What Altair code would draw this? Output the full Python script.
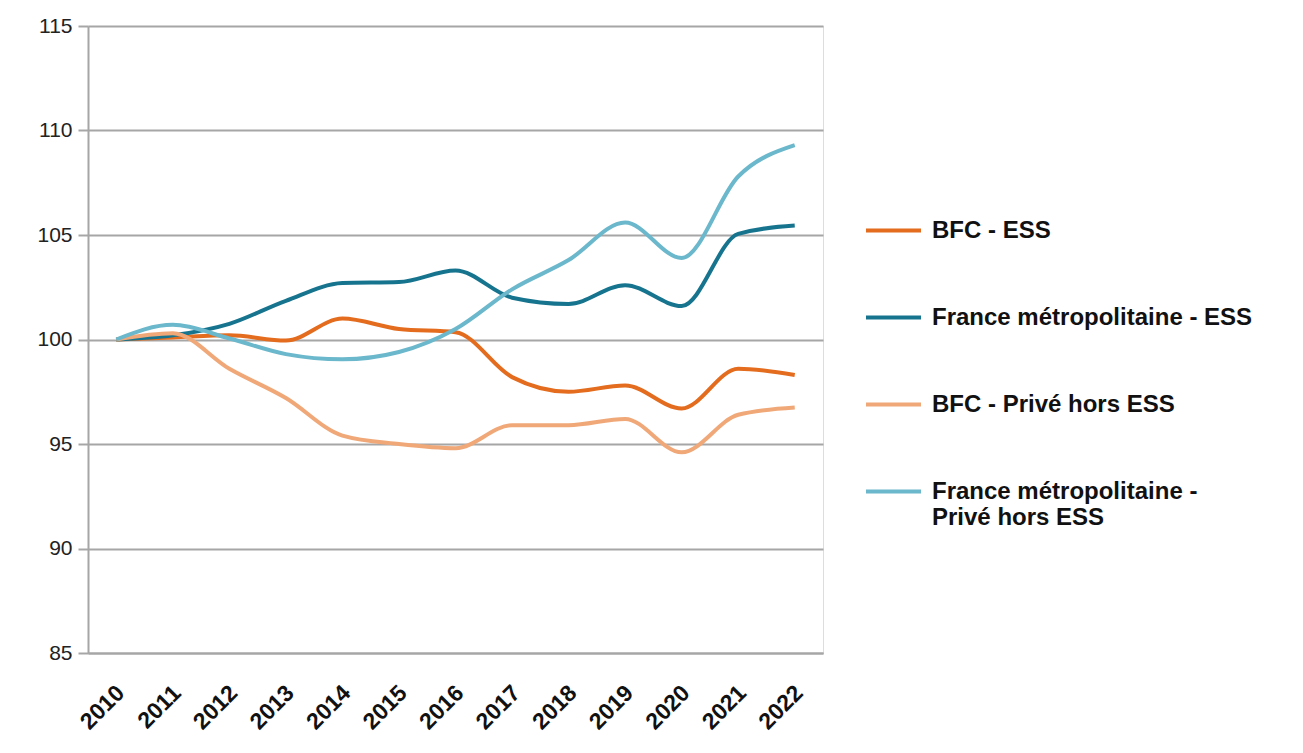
import altair as alt
import pandas as pd

years = [str(y) for y in range(2010, 2023)]

series_names = [
    "BFC - ESS",
    "France métropolitaine - ESS",
    "BFC - Privé hors ESS",
    "France métropolitaine - Privé hors ESS",
]
series_colors = ["#E36C1E", "#17748F", "#F0A878", "#6BB7CB"]

bfc_ess = [100, 100.1, 100.2, 99.95, 101.0, 100.5, 100.35, 98.2, 97.5, 97.8, 96.7, 98.6, 98.3]
fr_ess = [100, 100.2, 100.75, 101.85, 102.7, 102.75, 103.3, 102.0, 101.7, 102.6, 101.6, 105.05, 105.45]
bfc_prive = [100, 100.3, 98.6, 97.2, 95.4, 95.0, 94.8, 95.9, 95.9, 96.2, 94.6, 96.4, 96.75]
fr_prive = [100, 100.7, 100.05, 99.3, 99.05, 99.4, 100.5, 102.4, 103.8, 105.6, 103.9, 107.8, 109.3]

series_values = [bfc_ess, fr_ess, bfc_prive, fr_prive]

rows = []
for name, vals in zip(series_names, series_values):
    for yr, v in zip(years, vals):
        rows.append({"annee": yr, "valeur": v, "serie": name})
df = pd.DataFrame(rows)

label_expr = (
    "datum.label == 'France métropolitaine - Privé hors ESS' "
    "? ['France métropolitaine -', 'Privé hors ESS'] : datum.label"
)

chart = (
    alt.Chart(df)
    .mark_line(interpolate="monotone", strokeWidth=4)
    .encode(
        x=alt.X(
            "annee:O",
            title=None,
            sort=years,
            axis=alt.Axis(
                labelAngle=-45,
                labelAlign="right",
                labelBaseline="middle",
                labelFontSize=23,
                labelFontWeight="bold",
                labelFont="Liberation Sans",
                labelColor="#111111",
                labelPadding=36,
                labelOffset=4,
                ticks=False,
                domain=True,
                domainColor="#A6A6A6",
                domainWidth=2,
                grid=False,
            ),
        ),
        y=alt.Y(
            "valeur:Q",
            title=None,
            scale=alt.Scale(domain=[85, 115], nice=False, zero=False),
            axis=alt.Axis(
                values=[85, 90, 95, 100, 105, 110, 115],
                labelFontSize=21,
                labelFont="Liberation Sans",
                labelColor="#222222",
                labelPadding=6,
                tickSize=10,
                tickColor="#A6A6A6",
                tickWidth=2,
                domainColor="#A6A6A6",
                domainWidth=2,
                gridColor="#A6A6A6",
                gridWidth=2,
                minExtent=75,
            ),
        ),
        color=alt.Color(
            "serie:N",
            sort=series_names,
            scale=alt.Scale(domain=series_names, range=series_colors),
            legend=alt.Legend(
                title=None,
                orient="none",
                legendX=776,
                legendY=175,
                symbolType="stroke",
                symbolSize=3025,
                symbolStrokeWidth=4,
                labelFontSize=24,
                labelFont="Liberation Sans",
                labelFontWeight="bold",
                labelColor="#111111",
                labelOffset=9,
                labelLimit=500,
                rowPadding=45,
                labelExpr=label_expr,
                labelBaseline="middle",
            ),
        ),
    )
    .properties(width=735, height=627, padding={"left": 5, "top": 7, "right": 5, "bottom": 5})
    .configure_view(stroke=None)
    .configure(background="white")
)

chart.save("out.html", embed_options={"renderer": "svg", "actions": False})
